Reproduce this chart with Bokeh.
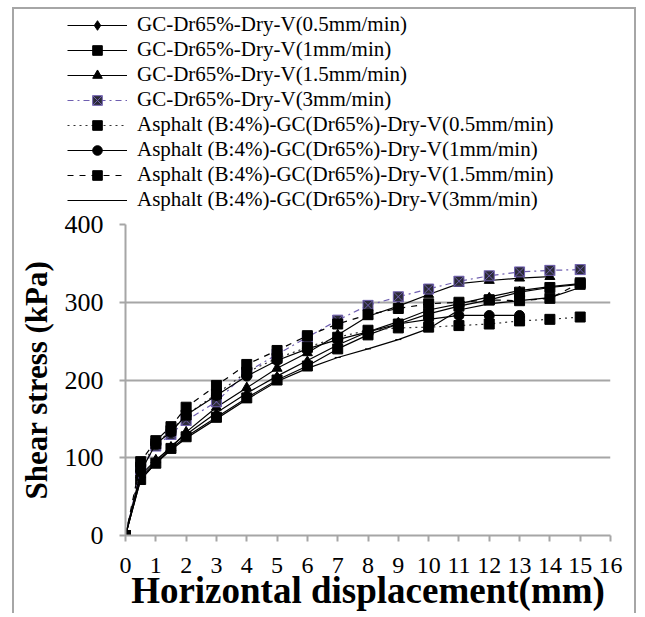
from bokeh.plotting import figure
from bokeh.models import Range1d, FixedTicker, Legend, LegendItem
from bokeh.embed import file_html
from bokeh.resources import INLINE

# ---- data ----
x_full = [0, 0.5, 1, 1.5, 2, 3, 4, 5, 6, 7, 8, 9, 10, 11, 12, 13, 14, 15]

gc_05 = [0, 75, 95, 115, 130, 158, 183, 205, 225, 245, 262, 275, 290, 298, 307, 315, 320, 324]
gc_1 = [0, 72, 93, 112, 127, 152, 177, 200, 218, 240, 258, 272, 285, 295, 303, 313, 319, 323]
gc_15 = [0, 78, 97, 113, 133, 165, 190, 215, 235, 258, 282, 295, 310, 324, 328, 331, 333]
gc_3 = [0, 85, 115, 130, 148, 172, 210, 233, 255, 277, 296, 307, 317, 327, 334, 339, 341, 342]
as_05 = [0, 88, 118, 135, 155, 182, 210, 228, 242, 255, 264, 267, 268, 270, 272, 276, 278, 281]
as_1 = [0, 82, 118, 133, 155, 180, 205, 225, 240, 252, 262, 272, 278, 283, 283, 283]
as_15 = [0, 95, 122, 140, 165, 193, 220, 238, 257, 272, 284, 292, 298, 300, 303, 302, 305, 325]
as_3 = [0, 72, 93, 110, 125, 150, 175, 198, 215, 229, 240, 252, 266, 290, 298, 302, 306, 319]

labels = [
    "GC-Dr65%-Dry-V(0.5mm/min)",
    "GC-Dr65%-Dry-V(1mm/min)",
    "GC-Dr65%-Dry-V(1.5mm/min)",
    "GC-Dr65%-Dry-V(3mm/min)",
    "Asphalt (B:4%)-GC(Dr65%)-Dry-V(0.5mm/min)",
    "Asphalt (B:4%)-GC(Dr65%)-Dry-V(1mm/min)",
    "Asphalt (B:4%)-GC(Dr65%)-Dry-V(1.5mm/min)",
    "Asphalt (B:4%)-GC(Dr65%)-Dry-V(3mm/min)",
]
series = [gc_05, gc_1, gc_15, gc_3, as_05, as_1, as_15, as_3]
x_ticks = list(range(0, 17))
y_ticks = [0, 100, 200, 300, 400]

FONT = "Liberation Serif"
GRAY = "#a6a6a6"
BORDER = "2px solid #a6a6a6"

styles = [
    dict(marker="diamond", size=9, dash="solid", color="black", fill="black"),
    dict(marker="square", size=10, dash="solid", color="black", fill="black"),
    dict(marker="triangle", size=10, dash="solid", color="black", fill="black"),
    dict(marker="square_x", size=10, dash="dashdot", color="#6f5fb0", fill="#2b2b36"),
    dict(marker="square", size=10, dash="dotted", color="#333333", fill="black"),
    dict(marker="circle", size=10, dash="solid", color="black", fill="black"),
    dict(marker="square", size=10, dash="dashed", color="black", fill="black"),
    dict(marker="dash", size=6, dash="solid", color="black", fill="black"),
]


def add_series(fig, xs, ys, st):
    r1 = fig.line(xs, ys, line_color=st["color"], line_width=1.2, line_dash=st["dash"])
    if st["marker"] == "square_x":
        r2 = fig.scatter(xs, ys, marker="square_x", size=st["size"], fill_color=st["fill"],
                         line_color=st["color"], line_width=1)
    else:
        r2 = fig.scatter(xs, ys, marker=st["marker"], size=st["size"], fill_color=st["fill"],
                         line_color="black", line_width=1)
    return r1, r2


# ---- legend strip (top); its renderers hold the series but lie outside its view ----
top = figure(width=624, height=203, output_backend="svg", toolbar_location=None,
             x_axis_type=None, y_axis_type=None,
             x_range=Range1d(-200, -199), y_range=Range1d(-200, -199))
top.margin = (7, 0, 0, 12)
top.styles = {"border-left": BORDER, "border-top": BORDER, "border-right": BORDER}
top.min_border_left = 0
top.min_border_right = 0
top.min_border_top = 0
top.min_border_bottom = 0
top.outline_line_color = None
top.xgrid.grid_line_color = None
top.ygrid.grid_line_color = None

items = []
for lab, ys, st in zip(labels, series, styles):
    r1, r2 = add_series(top, x_full[:len(ys)], ys, st)
    items.append(LegendItem(label=lab, renderers=[r1, r2]))

legend = Legend(items=items, location=(53, 0), orientation="vertical")
legend.label_text_font = FONT
legend.label_text_font_size = "21px"
legend.label_text_line_height = 1.0
legend.label_text_color = "black"
legend.glyph_width = 60
legend.glyph_height = 24
legend.label_height = 24
legend.label_standoff = 10
legend.spacing = 0
legend.padding = 0
legend.margin = 0
legend.border_line_color = None
legend.background_fill_alpha = 0
top.add_layout(legend, "center")

# ---- main chart ----
p = figure(width=624, height=403, output_backend="svg", toolbar_location=None,
           x_range=Range1d(0, 16), y_range=Range1d(0, 400))
p.margin = (0, 0, 0, 12)
p.styles = {"border-left": BORDER, "border-right": BORDER}
p.min_border_left = 111
p.min_border_right = 28
p.min_border_top = 14
p.min_border_bottom = 77
p.outline_line_color = None

p.xgrid.grid_line_color = None
p.ygrid.grid_line_color = GRAY
p.ygrid.grid_line_width = 2
p.ygrid.ticker = FixedTicker(ticks=y_ticks)

p.xaxis.ticker = FixedTicker(ticks=x_ticks)
p.yaxis.ticker = FixedTicker(ticks=y_ticks)
for ax in (p.xaxis[0], p.yaxis[0]):
    ax.axis_line_color = GRAY
    ax.axis_line_width = 2
    ax.major_tick_line_color = GRAY
    ax.major_tick_line_width = 2
    ax.major_tick_in = 0
    ax.major_tick_out = 6
    ax.minor_tick_line_color = None
    ax.major_label_text_font = FONT
    ax.major_label_text_color = "black"
    ax.axis_label_text_font = FONT
    ax.axis_label_text_font_style = "bold"
    ax.axis_label_text_color = "black"
p.xaxis.axis_label = "Horizontal displacement(mm)"
p.yaxis.axis_label = "Shear stress (kPa)"
p.xaxis.major_label_text_font_size = "24px"
p.yaxis.major_label_text_font_size = "26px"
p.xaxis.axis_label_text_font_size = "37px"
p.yaxis.axis_label_text_font_size = "31px"
p.xaxis.major_label_standoff = 16
p.yaxis.major_label_standoff = 16
p.xaxis.axis_label_standoff = -6
p.yaxis.axis_label_standoff = 8

for ys, st in zip(series, styles):
    add_series(p, x_full[:len(ys)], ys, st)

open("out.html", "w").write(file_html([top, p], INLINE))
